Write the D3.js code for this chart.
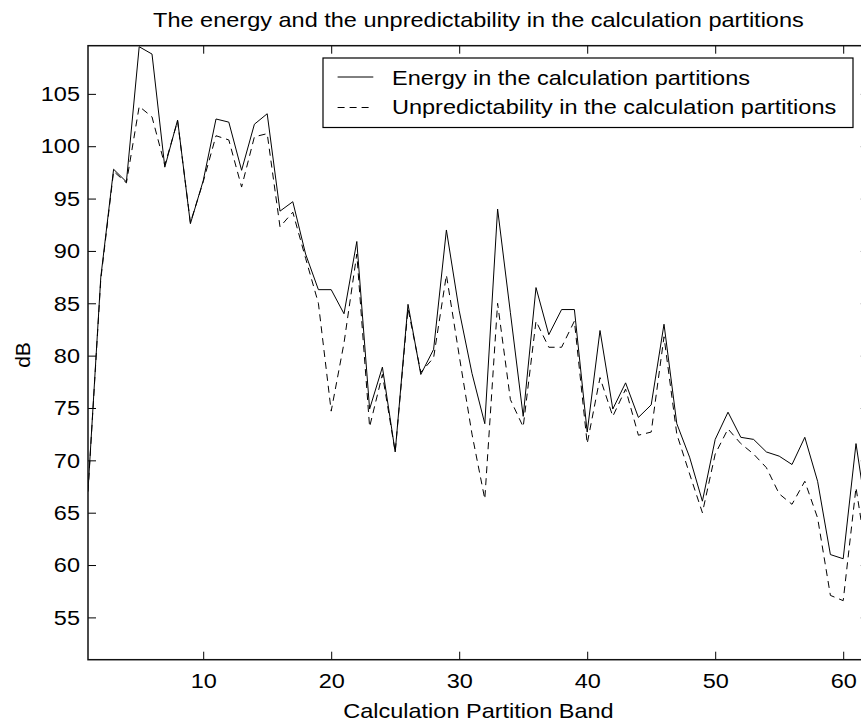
<!DOCTYPE html>
<html>
<head>
<meta charset="utf-8">
<script src="https://cdn.jsdelivr.net/npm/d3@7"></script>
<style>
  html, body { margin: 0; padding: 0; background: #fff; }
  svg { display: block; }
  text { font-family: "Liberation Sans", Arial, Helvetica, sans-serif; fill: #000; }
</style>
</head>
<body>
<svg id="chart" width="861" height="727"></svg>
<script>
const bands = d3.range(1, 63);
const energy = [67.1, 87.5, 97.8, 96.6, 109.5, 108.8, 98.0, 102.5, 92.6, 96.7,
  102.6, 102.3, 97.7, 102.1, 103.1, 93.8, 94.7, 89.7, 86.3, 86.3,
  84.0, 90.9, 74.9, 78.9, 70.8, 84.9, 78.2, 80.6, 92.0, 84.3,
  78.3, 73.5, 94.0, 84.1, 74.2, 86.5, 82.0, 84.4, 84.4, 72.7,
  82.4, 74.9, 77.4, 74.1, 75.3, 83.0, 73.5, 70.3, 66.1, 72.0,
  74.6, 72.2, 72.0, 70.8, 70.4, 69.6, 72.2, 68.0, 61.0, 60.6,
  71.6, 63.4];
const unpredictability = [67.0, 87.3, 97.6, 96.5, 103.8, 102.8, 98.2, 102.4, 92.7, 96.6,
  101.0, 100.6, 96.1, 100.9, 101.2, 92.3, 93.7, 89.3, 85.0, 74.7,
  81.2, 89.7, 73.2, 78.2, 70.8, 84.5, 78.4, 79.8, 87.7, 80.0,
  72.5, 66.3, 85.0, 75.8, 73.2, 83.3, 80.8, 80.8, 83.3, 71.6,
  77.9, 74.2, 76.8, 72.4, 72.7, 81.8, 72.5, 68.7, 65.0, 70.6,
  73.0, 71.6, 70.6, 69.3, 66.8, 65.8, 68.0, 64.5, 57.1, 56.6,
  67.4, 59.5];
const xTicks = [10, 20, 30, 40, 50, 60];
const yTicks = [55, 60, 65, 70, 75, 80, 85, 90, 95, 100, 105];
const seriesNames = ["Energy in the calculation partitions", "Unpredictability in the calculation partitions"];
const titleText = "The energy and the unpredictability in the calculation partitions";
const xLabel = "Calculation Partition Band";
const yLabel = "dB";

const svg = d3.select("#chart");
const L = 88, R = 868.8, T = 45.7, B = 659.7;
const x = d3.scaleLinear().domain([1, 62]).range([L, R]);
const y = d3.scaleLinear().domain([50.96, 109.6]).range([B, T]);
const fs = 21, sx = 1.12;

svg.append("clipPath").attr("id", "clip")
  .append("rect").attr("x", L).attr("y", T).attr("width", R - L).attr("height", B - T);

const lineGen = d3.line().x((d, i) => x(bands[i])).y(d => y(d));
const plot = svg.append("g").attr("clip-path", "url(#clip)");
plot.append("path").datum(unpredictability).attr("d", lineGen)
  .attr("fill", "none").attr("stroke", "#000").attr("stroke-width", 1)
  .attr("stroke-dasharray", "7,5");
plot.append("path").datum(energy).attr("d", lineGen)
  .attr("fill", "none").attr("stroke", "#000").attr("stroke-width", 1);

// axes with inward ticks
const tickLen = 8;
const axB = d3.axisBottom(x).tickValues(xTicks).tickSizeInner(-tickLen).tickSizeOuter(0).tickPadding(13);
const axL = d3.axisLeft(y).tickValues(yTicks).tickSizeInner(-tickLen).tickSizeOuter(0).tickPadding(8);
const axT = d3.axisTop(x).tickValues(xTicks).tickSizeInner(-tickLen).tickSizeOuter(0).tickFormat("");
const axR = d3.axisRight(y).tickValues(yTicks).tickSizeInner(-tickLen).tickSizeOuter(0).tickFormat("");

function style(g) {
  g.selectAll("path.domain").remove();
  g.selectAll("line").attr("stroke", "#000").attr("stroke-width", 1);
  g.selectAll("text").style("font-size", fs + "px").attr("fill", "#000")
    .each(function () {
      const t = d3.select(this);
      const tx = +t.attr("x") || 0;
      t.attr("x", tx / sx).attr("transform", `scale(${sx},1)`);
    });
}
svg.append("g").attr("transform", `translate(0,${B})`).call(axB).call(style);
svg.append("g").attr("transform", `translate(${L},0)`).call(axL).call(style);
svg.append("g").attr("transform", `translate(0,${T})`).call(axT).call(style);
svg.append("g").attr("transform", `translate(${R},0)`).call(axR).call(style);

svg.append("rect").attr("x", L).attr("y", T).attr("width", R - L).attr("height", B - T)
  .attr("fill", "none").attr("stroke", "#111").attr("stroke-width", 1.5);

function label(px, py, str, anchor, extra) {
  return svg.append("text")
    .attr("transform", `translate(${px},${py}) ${extra || ""} scale(${sx},1)`)
    .attr("text-anchor", anchor).style("font-size", fs + "px").text(str);
}
label((L + R) / 2, 27, titleText, "middle");
label((L + R) / 2, 718, xLabel, "middle");
svg.append("text").attr("transform", `translate(29.5,355) rotate(-90)`).attr("text-anchor", "middle")
  .style("font-size", fs + "px").text(yLabel);

// legend
const lg = svg.append("g");
lg.append("rect").attr("x", 323).attr("y", 58).attr("width", 530).attr("height", 69.5)
  .attr("fill", "#fff").attr("stroke", "#000").attr("stroke-width", 1.2);
const lineRows = [77, 107.5];
const textRows = [84.7, 114];
seriesNames.forEach((name, i) => {
  lg.append("line").attr("x1", 337.6).attr("x2", 373.3).attr("y1", lineRows[i]).attr("y2", lineRows[i])
    .attr("stroke", "#000").attr("stroke-width", 1)
    .attr("stroke-dasharray", i === 1 ? "7,5" : null);
  label(392, textRows[i], name, "start");
});
</script>
</body>
</html>
